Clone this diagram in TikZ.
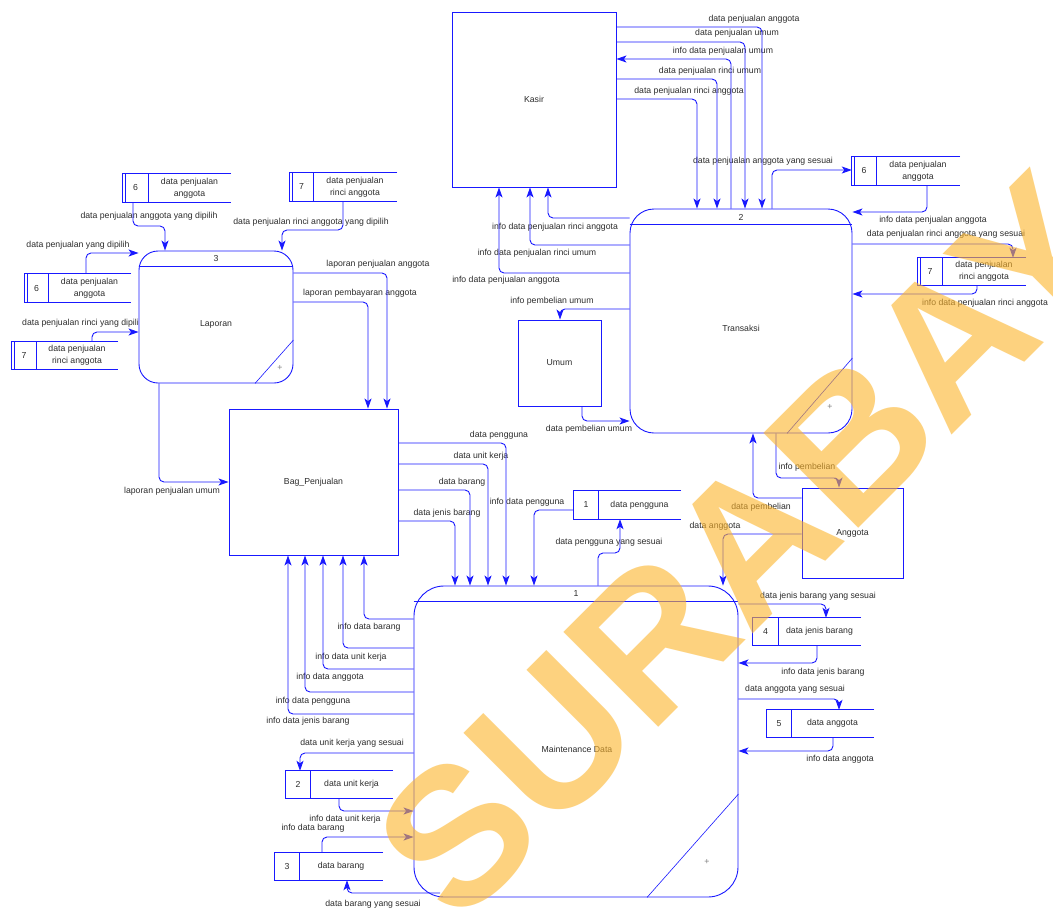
\documentclass[tikz,border=0pt]{standalone}
\usepackage{fontspec}
\setmainfont{Liberation Sans}
\usetikzlibrary{arrows.meta,fit}
\definecolor{lnblue}{RGB}{25,25,255}
\definecolor{txt}{RGB}{45,45,45}
\definecolor{wmark}{RGB}{252,180,43}
\newcommand{\lblsize}{\fontsize{8.7}{12}\selectfont}
\tikzset{
  shape line/.style={draw=lnblue, line width=0.9pt},
  extbox/.style={shape line, rectangle, inner sep=0, font=\lblsize, text=txt, fill=white},
  procbox/.style={shape line, rectangle, rounded corners=#1, inner sep=0, fill=white},
  flow/.style={draw=lnblue, line width=0.9pt, rounded corners=5pt,
    -{Stealth[length=10pt,width=7pt,inset=2.5pt]}},
  lbl/.style={font=\lblsize, text=txt, inner sep=0},
  plus/.style={font=\lblsize, text=gray, inner sep=0},
}
% data store: name, left, top, right, bottom, divider, id, title
\newcommand{\dstore}[8]{%
  \coordinate (#1-a) at (#2,#3);
  \coordinate (#1-b) at (#4,#5);
  \node[fit=(#1-a)(#1-b), inner sep=0] (#1) {};
  \draw[shape line] (#1.north east) -- (#1.north west) -- (#1.south west) -- (#1.south east);
  \draw[shape line] (#6,#3) -- (#6,#5);
  \node[lbl] (#1-id) at ({(#2+#6)/2},{(#3+#5)/2}) {#7};
  \node[lbl, align=center] (#1-name) at ({(#6+#4)/2},{(#3+#5)/2}) {#8};
}
\begin{document}
\begin{tikzpicture}[x=1pt,y=-1pt]
\useasboundingbox (0,0) rectangle (1053,911);
\fill[white] (0,0) rectangle (1053,911);

% ---------- flow labels ----------
\node[lbl] (l1) at (754,19) {data penjualan anggota};
\node[lbl] (l2) at (737,33) {data penjualan umum};
\node[lbl] (l3) at (723,51) {info data penjualan umum};
\node[lbl] (l4) at (710,71) {data penjualan rinci umum};
\node[lbl] (l5) at (689,91) {data penjualan rinci anggota};
\node[lbl] (l6) at (763,161) {data penjualan anggota yang sesuai};
\node[lbl] (l7) at (933,220) {info data penjualan anggota};
\node[lbl] (l8) at (946,234) {data penjualan rinci anggota yang sesuai};
\node[lbl] (l9) at (985,303) {info data penjualan rinci anggota};
\node[lbl] (l10) at (555,227) {info data penjualan rinci anggota};
\node[lbl] (l11) at (537,253) {info data penjualan rinci umum};
\node[lbl] (l12) at (506,280) {info data penjualan anggota};
\node[lbl] (l13) at (552,301) {info pembelian umum};
\node[lbl] (l14) at (589,429) {data pembelian umum};
\node[lbl] (l15) at (807,467) {info pembelian};
\node[lbl] (l16) at (761,507) {data pembelian};
\node[lbl] (l17) at (715,526) {data anggota};
\node[lbl] (l18) at (149,216) {data penjualan anggota yang dipilih};
\node[lbl] (l19) at (311,222) {data penjualan rinci anggota yang dipilih};
\node[lbl] (l20) at (78,245) {data penjualan yang dipilih};
\node[lbl, anchor=west] (l21) at (22,323) {data penjualan rinci yang dipilih};
\node[lbl] (l22) at (378,264) {laporan penjualan anggota};
\node[lbl] (l23) at (360,293) {laporan pembayaran anggota};
\node[lbl] (l24) at (172,491) {laporan penjualan umum};
\node[lbl] (l25) at (499,435) {data pengguna};
\node[lbl] (l26) at (481,456) {data unit kerja};
\node[lbl] (l27) at (462,482) {data barang};
\node[lbl] (l28) at (447,513) {data jenis barang};
\node[lbl] (l29) at (527,502) {info data pengguna};
\node[lbl] (l30) at (609,542) {data pengguna yang sesuai};
\node[lbl] (l31) at (369,627) {info data barang};
\node[lbl] (l32) at (351,657) {info data unit kerja};
\node[lbl] (l33) at (330,677) {info data anggota};
\node[lbl] (l34) at (313,701) {info data pengguna};
\node[lbl] (l35) at (308,721) {info data jenis barang};
\node[lbl] (l36) at (352,743) {data unit kerja yang sesuai};
\node[lbl] (l37) at (345,819) {info data unit kerja};
\node[lbl] (l38) at (313,828) {info data barang};
\node[lbl] (l39) at (373,904) {data barang yang sesuai};
\node[lbl] (l40) at (818,596) {data jenis barang yang sesuai};
\node[lbl] (l41) at (823,672) {info data jenis barang};
\node[lbl] (l42) at (795,689) {data anggota yang sesuai};
\node[lbl] (l43) at (840,759) {info data anggota};

% ---------- external entities ----------
\node[extbox, minimum width=164pt, minimum height=175pt] (kasir) at (534,99.5) {Kasir};
\node[extbox, minimum width=83pt, minimum height=86pt] (umum) at (559.5,363) {Umum};
\node[extbox, minimum width=101pt, minimum height=90pt] (ang) at (852.5,533) {Anggota};
\node[extbox, minimum width=169pt, minimum height=146pt] (bag) at (313.5,482) {Bag\_Penjualan};

% ---------- processes ----------
\node[procbox=24pt, minimum width=222pt, minimum height=224pt] (tr) at (741,321) {};
\draw[shape line] (tr.west |- 0,224) -- (tr.east |- 0,224);
\draw[shape line, line width=0.6pt] (tr.east |- 0,358) -- (tr.south -| 787,0);
\node[lbl] (tr-id) at (741,217) {2};
\node[lbl] (tr-name) at (741,328) {Transaksi};
\node[plus] (tr-plus) at (830,407) {+};

\node[procbox=19pt, minimum width=154pt, minimum height=132pt] (lap) at (216,317) {};
\draw[shape line] (lap.west |- 0,266) -- (lap.east |- 0,266);
\draw[shape line, line width=0.6pt] (lap.east |- 0,340) -- (lap.south -| 255,0);
\node[lbl] (lap-id) at (216,258) {3};
\node[lbl] (lap-name) at (216,324.5) {Laporan};
\node[plus] (lap-plus) at (280,368) {+};

\node[procbox=30pt, minimum width=324pt, minimum height=311pt] (maint) at (576,741.5) {};
\draw[shape line] (maint.west |- 0,601) -- (maint.east |- 0,601);
\draw[shape line, line width=0.6pt] (maint.east |- 0,794) -- (maint.south -| 647,0);
\node[lbl] (maint-id) at (576,593) {1};
\node[lbl] (maint-name) at (577,749) {Maintenance Data};
\node[plus] (maint-plus) at (707,862) {+};

% ---------- data stores ----------
\dstore{s6a}{123}{174}{231}{202}{148}{6}{data penjualan\\anggota}
\dstore{s7a}{290}{173}{397}{201}{313}{7}{data penjualan\\rinci anggota}
\dstore{s6b}{25}{274}{131}{302}{48}{6}{data penjualan\\anggota}
\dstore{s7b}{12}{342}{118}{369}{36}{7}{data penjualan\\rinci anggota}
\dstore{s6r}{852}{157}{960}{185}{876}{6}{data penjualan\\anggota}
\dstore{s7r}{918}{258}{1026}{285}{942}{7}{data penjualan\\rinci anggota}
\foreach \s in {s6a,s7a,s6b,s7b,s6r,s7r}
  \draw[shape line] ([xshift=3pt]\s.north west) -- ([xshift=3pt]\s.south west);
\dstore{s1}{574}{491}{681}{519}{598}{1}{data pengguna}
\dstore{s4}{753}{618}{861}{645}{778}{4}{data jenis barang}
\dstore{s5}{767}{710}{874}{737}{791}{5}{data anggota}
\dstore{s2}{286}{771}{393}{798}{310}{2}{data unit kerja}
\dstore{s3}{275}{853}{383}{880}{299}{3}{data barang}

% ---------- flows: Kasir / Transaksi ----------
\draw[flow] (kasir.east |- 0,27) -| (tr.north -| 762,0);
\draw[flow] (kasir.east |- 0,42) -| (tr.north -| 745,0);
\draw[flow] (tr.north -| 731,0) |- (kasir.east |- 0,59);
\draw[flow] (kasir.east |- 0,79) -| (tr.north -| 717,0);
\draw[flow] (kasir.east |- 0,99) -| (tr.north -| 697,0);
\draw[flow] (tr.west |- 0,218) -| (kasir.south -| 548,0);
\draw[flow] (tr.west |- 0,245) -| (kasir.south -| 530,0);
\draw[flow] (tr.west |- 0,273) -| (kasir.south -| 499,0);
% Transaksi / stores 6 and 7
\draw[flow] (tr.north -| 772,0) |- (s6r.west |- 0,170);
\draw[flow] (s6r.south -| 927,0) |- (tr.east |- 0,212);
\draw[flow] (tr.east |- 0,244) -| (s7r.north -| 1013,0);
\draw[flow] (s7r.south -| 977,0) |- (tr.east |- 0,294);
% Transaksi / Umum
\draw[flow] (tr.west |- 0,309) -| (umum.north -| 560,0);
\draw[flow] (umum.south -| 582,0) |- (tr.west |- 0,421);
% Transaksi / Anggota
\draw[flow] (tr.south -| 776,0) -- (776,478) -- (839,478) -- (ang.north -| 839,0);
\draw[flow] (ang.west |- 0,498) -| (tr.south -| 753,0);
\draw[flow] (ang.west |- 0,534) -| (maint.north -| 723,0);

% ---------- flows: Laporan ----------
\draw[flow] (s6a.south -| 133,0) -- (133,226) -- (165,226) -- (lap.north -| 165,0);
\draw[flow] (s7a.south -| 343,0) -- (343,230) -- (282,230) -- (lap.north -| 282,0);
\draw[flow] (s6b.north -| 86,0) |- (lap.west |- 0,253);
\draw[flow] (s7b.north -| 92,0) |- (lap.west |- 0,332);
\draw[flow] (lap.east |- 0,273) -| (bag.north -| 387,0);
\draw[flow] (lap.east |- 0,302) -| (bag.north -| 368,0);
\draw[flow] (lap.south -| 159,0) |- (bag.west |- 0,482);

% ---------- flows: Bag_Penjualan / Maintenance Data ----------
\draw[flow] (bag.east |- 0,443) -| (maint.north -| 506,0);
\draw[flow] (bag.east |- 0,464) -| (maint.north -| 488,0);
\draw[flow] (bag.east |- 0,490) -| (maint.north -| 470,0);
\draw[flow] (bag.east |- 0,521) -| (maint.north -| 455,0);
\draw[flow] (maint.west |- 0,619) -| (bag.south -| 364,0);
\draw[flow] (maint.west |- 0,648) -| (bag.south -| 343,0);
\draw[flow] (maint.west |- 0,669) -| (bag.south -| 323,0);
\draw[flow] (maint.west |- 0,692) -| (bag.south -| 305,0);
\draw[flow] (maint.west |- 0,714) -| (bag.south -| 288,0);

% ---------- flows: Maintenance Data / stores ----------
\draw[flow] (s1.west |- 0,510) -| (maint.north -| 534,0);
\draw[flow] (maint.north -| 598,0) -- (598,553) -- (620,553) -- (s1.south -| 620,0);
\draw[flow] (maint.west |- 0,753) -| (s2.north -| 300,0);
\draw[flow] (s2.south -| 339,0) |- (maint.west |- 0,811);
\draw[flow] (s3.north -| 322,0) |- (maint.west |- 0,837);
\coordinate (mbot) at (440,893);
\draw[flow] (mbot) -| (s3.south -| 347,0);
\draw[flow] (maint.east |- 0,604) -| (s4.north -| 826,0);
\draw[flow] (s4.south -| 817,0) |- (maint.east |- 0,663);
\draw[flow] (maint.east |- 0,699) -| (s5.north -| 839,0);
\draw[flow] (s5.south -| 833,0) |- (maint.east |- 0,751);

% ---------- watermark ----------
\node[font=\bfseries\fontsize{195}{195}\selectfont, text=wmark, text opacity=0.6,
  rotate=45, inner sep=0] (wm) at (789,503) {SURABAYA};
\end{tikzpicture}
\end{document}
